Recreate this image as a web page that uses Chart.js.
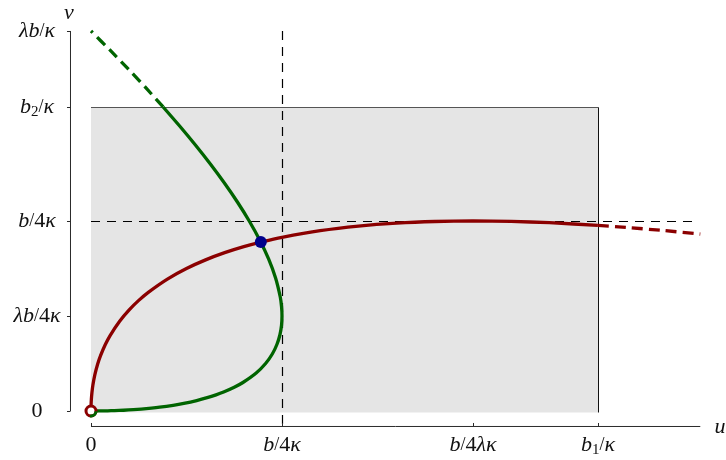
<!DOCTYPE html>
<html>
<head>
<meta charset="utf-8">
<script src="https://cdn.jsdelivr.net/npm/chart.js@4.4.1/dist/chart.umd.min.js"></script>
<style>
  html, body { margin: 0; padding: 0; background: #ffffff; }
  #wrap { width: 726px; height: 460px; }
</style>
</head>
<body>
<div id="wrap"><canvas id="c" width="726" height="460"></canvas></div>
<script>
// Nullcline v(u) for the u-equation (red), in units of b/4κ
const redU      = [0, 0.0005, 0.002, 0.005, 0.01, 0.02, 0.035, 0.05, 0.075, 0.1, 0.15, 0.2, 0.25, 0.3, 0.4, 0.5, 0.6, 0.7, 0.8, 0.9, 1.0, 1.2, 1.4, 1.6, 1.8, 2.0, 2.2, 2.4, 2.654];
const redV      = [0, 0.0314, 0.0622, 0.0975, 0.1364, 0.19, 0.2471, 0.2912, 0.3498, 0.3972, 0.4727, 0.5325, 0.5821, 0.6246, 0.6944, 0.75, 0.7954, 0.8332, 0.8649, 0.8916, 0.9142, 0.9492, 0.9733, 0.9889, 0.9974, 1.0, 0.9976, 0.9909, 0.9769];
const redDashU  = [2.654, 2.8, 3.0, 3.19];
const redDashV  = [0.9769, 0.9664, 0.9495, 0.9311];

// Nullcline u(v) for the v-equation (green)
const greenV     = [0, 0.0002, 0.0005, 0.001, 0.002, 0.004, 0.007, 0.01, 0.015, 0.02, 0.03, 0.04, 0.055, 0.07, 0.085, 0.1, 0.125, 0.15, 0.2, 0.25, 0.3, 0.35, 0.4, 0.45, 0.5, 0.55, 0.6, 0.7, 0.8, 0.9, 1.0, 1.1, 1.2, 1.3, 1.4, 1.5, 1.6];
const greenU     = [0, 0.0396, 0.0622, 0.0874, 0.1225, 0.1709, 0.2226, 0.2628, 0.3164, 0.36, 0.4299, 0.4857, 0.5533, 0.6083, 0.6546, 0.6944, 0.75, 0.7954, 0.8649, 0.9142, 0.9492, 0.9733, 0.9889, 0.9974, 1.0, 0.9976, 0.9909, 0.9664, 0.9298, 0.8833, 0.8284, 0.7665, 0.6984, 0.6249, 0.5466, 0.4641, 0.3777];
const greenDashV = [1.6, 1.7, 1.8, 1.9, 2.0];
const greenDashU = [0.3777, 0.2878, 0.1947, 0.0987, 0];

// Equilibria
const coexistU = [0.889];
const coexistV = [0.889];
const originU  = [0];
const originV  = [0];

// Admissible box [0, b1/κ] × [0, b2/κ] and reference lines
const boxU = [0, 2.654];
const boxV = [0, 1.6];
const guideU = 1;        // u = b/4κ
const guideV = 1;        // v = b/4κ

// Tick positions and labels
const uTicks      = [0, 1, 2, 2.654];
const uTickLabels = ['0', 'b/4κ', 'b/4λκ', 'b₁/κ'];
const vTicks      = [0, 0.5, 1, 1.6, 2];
const vTickLabels = ['0', 'λb/4κ', 'b/4κ', 'b₂/κ', 'λb/κ'];

const zip = (xs, ys) => xs.map((x, i) => ({ x: x, y: ys[i] }));

const RED = '#8b0000', GREEN = '#006400', BLUE = '#00008b';
const FONT = '"Liberation Serif", "Times New Roman", serif';

// Draws a label with italic letters, upright digits and subscripted digits
function drawMath(ctx, text, x, y, align, size) {
  const subs = '₀₁₂₃₄₅₆₇₈₉';
  const parts = [];
  for (const ch of text) {
    let font, str = ch, dy = 0;
    const si = subs.indexOf(ch);
    if (si >= 0) { str = String(si); font = `${Math.round(size * 0.7)}px ${FONT}`; dy = size * 0.25; }
    else if (/[0-9]/.test(ch)) { font = `${size}px ${FONT}`; }
    else if (ch === '/') { font = `${Math.round(size * 0.8)}px ${FONT}`; }
    else { font = `italic ${size}px ${FONT}`; }
    ctx.font = font;
    parts.push({ str, font, dy, w: ctx.measureText(str).width });
  }
  const total = parts.reduce((s, p) => s + p.w, 0);
  let cx = align === 'center' ? x - total / 2 : align === 'right' ? x - total : x;
  ctx.textAlign = 'left';
  ctx.textBaseline = 'middle';
  for (const p of parts) {
    ctx.font = p.font;
    ctx.fillText(p.str, cx, y + p.dy);
    cx += p.w;
  }
}

const snap = p => Math.round(p) + 0.5;

const framePlugin = {
  id: 'frame',
  beforeDatasetsDraw(chart) {
    const { ctx, scales: { x, y } } = chart;
    ctx.save();
    // shaded box
    const x0 = x.getPixelForValue(boxU[0]), x1 = snap(x.getPixelForValue(boxU[1]));
    const y0 = y.getPixelForValue(boxV[0]), y1 = snap(y.getPixelForValue(boxV[1]));
    ctx.fillStyle = '#e5e5e5';
    ctx.fillRect(x0, y1, x1 - x0, y0 - y1 + 1.5);
    ctx.lineWidth = 1;
    ctx.strokeStyle = '#555555';
    ctx.beginPath();
    ctx.moveTo(x0, y1); ctx.lineTo(x1, y1);
    ctx.stroke();
    ctx.strokeStyle = '#111111';
    ctx.beginPath();
    ctx.moveTo(x1, y1); ctx.lineTo(x1, y0 + 1.5);
    ctx.stroke();

    // axes, offset from the data like a range frame
    const axisX = x.getPixelForValue(0) - 21;
    const axisY = y.getPixelForValue(0) + 15;

    // dashed guides
    ctx.strokeStyle = '#000000';
    ctx.lineWidth = 1.2;
    ctx.setLineDash([9, 7]);
    ctx.beginPath();
    const gx = snap(x.getPixelForValue(guideU));
    ctx.moveTo(gx, y.getPixelForValue(2));
    ctx.lineTo(gx, axisY);
    const gy = snap(y.getPixelForValue(guideV));
    ctx.moveTo(x.getPixelForValue(0), gy);
    ctx.lineTo(x.getPixelForValue(3.173), gy);
    ctx.stroke();
    ctx.setLineDash([]);

    ctx.strokeStyle = '#2a2a2a';
    ctx.lineWidth = 1;
    ctx.beginPath();
    ctx.moveTo(axisX + 0.5, y.getPixelForValue(vTicks[vTicks.length - 1]));
    ctx.lineTo(axisX + 0.5, y.getPixelForValue(0));
    vTicks.forEach(v => {
      const py = snap(y.getPixelForValue(v));
      ctx.moveTo(axisX - 3, py); ctx.lineTo(axisX + 0.5, py);
    });
    ctx.moveTo(x.getPixelForValue(0), axisY + 0.5);
    ctx.lineTo(x.getPixelForValue(3.19), axisY + 0.5);
    uTicks.forEach(u => {
      const px = snap(x.getPixelForValue(u));
      ctx.moveTo(px, axisY + 0.5); ctx.lineTo(px, axisY - 3);
    });
    ctx.stroke();

    // tick labels
    ctx.fillStyle = '#111111';
    vTicks.forEach((v, i) => drawMath(ctx, vTickLabels[i], 37, y.getPixelForValue(v), 'center', 22));
    uTicks.forEach((u, i) => drawMath(ctx, uTickLabels[i], x.getPixelForValue(u), axisY + 19, 'center', 22));

    // axis names
    drawMath(ctx, 'v', axisX - 1, 13, 'center', 22);
    drawMath(ctx, 'u', 720, axisY + 1, 'center', 22);
    ctx.restore();
  },
  afterDatasetsDraw(chart) {
    // green end of the curve overlapping the origin marker
    const { ctx, scales: { x, y } } = chart;
    const ox = x.getPixelForValue(originU[0]), oy = y.getPixelForValue(originV[0]);
    ctx.save();
    ctx.strokeStyle = GREEN;
    ctx.lineWidth = 3;
    ctx.beginPath();
    ctx.arc(ox, oy, 5, 0.05, Math.PI / 2 + 0.2);
    ctx.stroke();
    ctx.restore();
  }
};

const lineBase = { showLine: true, pointRadius: 0, borderWidth: 3.3, tension: 0.2, fill: false };

new Chart(document.getElementById('c'), {
  type: 'scatter',
  data: {
    datasets: [
      { data: zip(coexistU, coexistV), order: 0, pointRadius: 6, pointBackgroundColor: BLUE, pointBorderColor: BLUE, pointBorderWidth: 0 },
      { data: zip(originU, originV), order: 1, pointRadius: 5, pointBackgroundColor: '#ffffff', pointBorderColor: RED, pointBorderWidth: 3 },
      Object.assign({ data: zip(redU, redV), order: 2, borderColor: RED }, lineBase),
      Object.assign({ data: zip(redDashU, redDashV), order: 3, borderColor: RED, borderDash: [11, 6] }, lineBase),
      Object.assign({ data: zip(greenU, greenV), order: 4, borderColor: GREEN }, lineBase),
      Object.assign({ data: zip(greenDashU, greenDashV), order: 5, borderColor: GREEN, borderDash: [11, 6] }, lineBase)
    ]
  },
  options: {
    responsive: false,
    animation: false,
    devicePixelRatio: 1,
    layout: { padding: 0, autoPadding: false },
    plugins: { legend: { display: false }, tooltip: { enabled: false } },
    scales: {
      x: { type: 'linear', min: -0.4764, max: 3.3246, display: false },
      y: { type: 'linear', min: -0.2579, max: 2.163, display: false }
    }
  },
  plugins: [framePlugin]
});
</script>
</body>
</html>
